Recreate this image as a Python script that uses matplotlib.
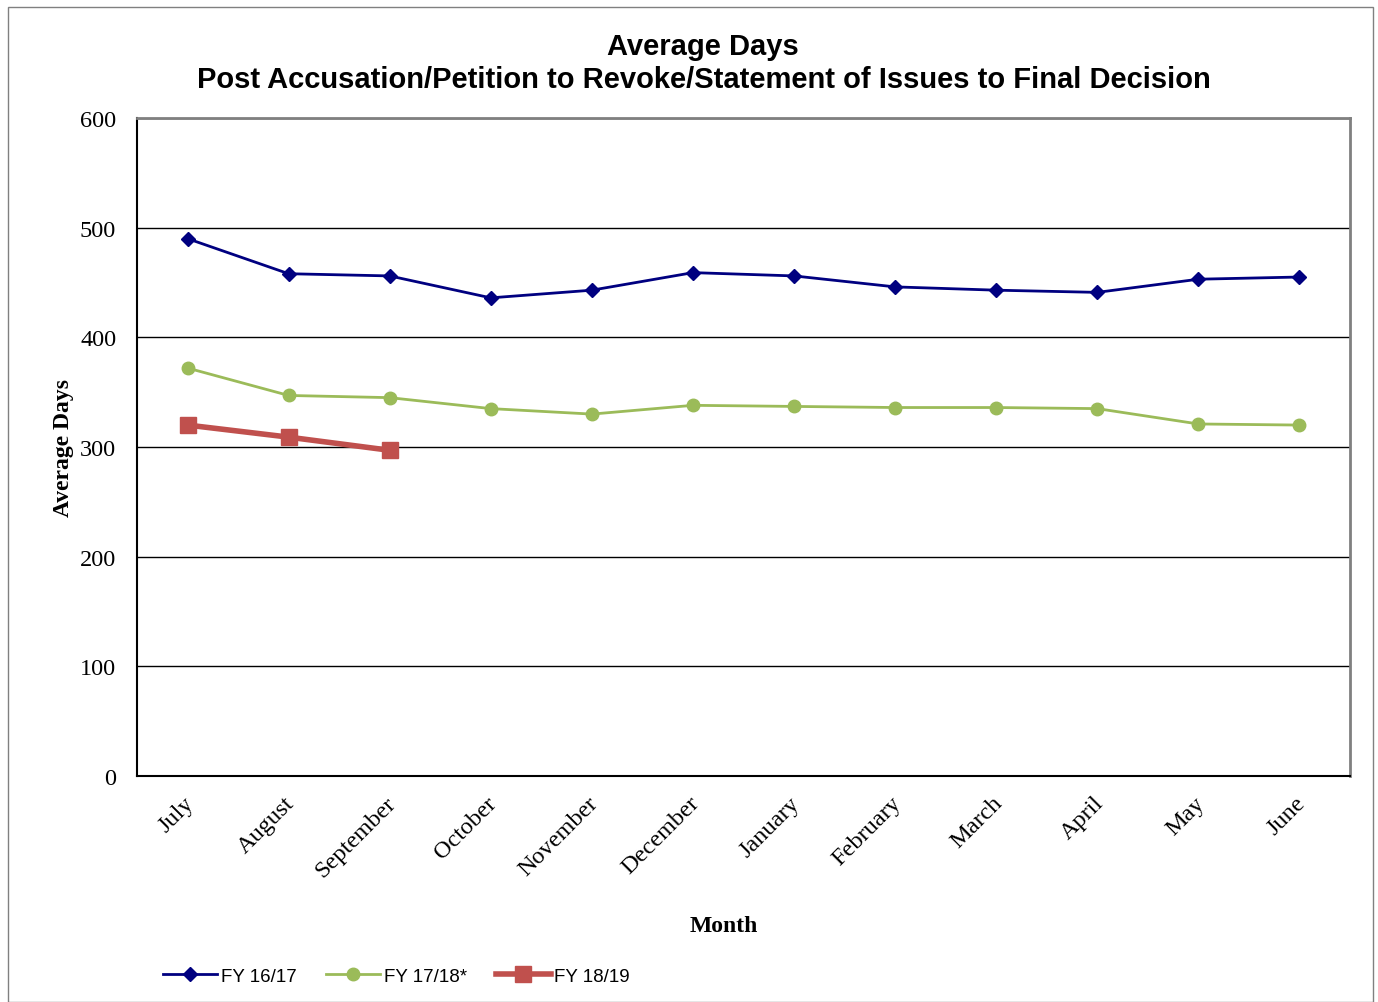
import matplotlib
matplotlib.use("Agg")
import matplotlib.pyplot as plt
from matplotlib.patches import Rectangle
from matplotlib.transforms import ScaledTranslation

months = ["July", "August", "September", "October", "November", "December",
          "January", "February", "March", "April", "May", "June"]
fy1617 = [490, 458, 456, 436, 443, 459, 456, 446, 443, 441, 453, 455]
fy1718 = [372, 347, 345, 335, 330, 338, 337, 336, 336, 335, 321, 320]
fy1819 = [320, 309, 297]

W, H = 1378, 1003
fig = plt.figure(figsize=(W/100, H/100), dpi=100)
fig.patches.append(Rectangle((8/W, 0), (1373-8)/W, (H-8)/H, transform=fig.transFigure,
                             fill=False, edgecolor="#808080", linewidth=1))
ax = fig.add_axes([137/W, 1-777/H, (1350-137)/W, (777-119)/H])

x = list(range(len(months)))
ax.plot(x, fy1617, color="#000080", marker="D", markersize=7, linewidth=2, label="FY 16/17")
ax.plot(x, fy1718, color="#9BBB59", marker="o", markersize=9, linewidth=2, label="FY 17/18*")
ax.plot(x[:len(fy1819)], fy1819, color="#C0504D", marker="s", markersize=12, linewidth=4, label="FY 18/19")

ax.set_xlim(-0.5, len(months)-0.5)
ax.set_ylim(0, 600)
ax.set_yticks(range(0, 601, 100))
ax.yaxis.grid(True, color="black", linewidth=1)
ax.set_axisbelow(True)
ax.tick_params(length=0)
ax.tick_params(axis="y", labelsize=17.5, pad=15)
for lab in ax.get_yticklabels():
    lab.set_family("Liberation Serif")
ax.set_xticks(x)
ax.set_xticklabels(months, rotation=45, ha="right", va="center", rotation_mode="anchor",
                   family="Liberation Serif", fontsize=17.5)
ax.tick_params(axis="x", pad=17)
off = ScaledTranslation(3/100, 0, fig.dpi_scale_trans)
for lab in ax.get_xticklabels():
    lab.set_transform(lab.get_transform() + off)
for s in ["left", "bottom"]:
    ax.spines[s].set_color("black"); ax.spines[s].set_linewidth(1.5)
for s in ["top", "right"]:
    ax.spines[s].set_color("#808080"); ax.spines[s].set_linewidth(2)

ax.set_ylabel("Average Days", family="Liberation Serif", fontsize=17, fontweight="bold", labelpad=4)
fig.text(724/W, 1-927/H, "Month", family="Liberation Serif", fontsize=17, fontweight="bold",
         ha="center", va="center")
fig.text(703/W, 1-47/H, "Average Days", family="Liberation Sans", fontsize=21, fontweight="bold",
         ha="center", va="center")
fig.text(704/W, 1-80/H, "Post Accusation/Petition to Revoke/Statement of Issues to Final Decision",
         family="Liberation Sans", fontsize=21, fontweight="bold", ha="center", va="center")

leg = fig.legend(loc="center left", bbox_to_anchor=(146/W, 1-977/H), ncol=3, frameon=False,
                 prop={"family": "Liberation Sans", "size": 13.5}, handlelength=2.9,
                 handletextpad=0.2, columnspacing=1.55)
fig.savefig("out.png", dpi=100)
